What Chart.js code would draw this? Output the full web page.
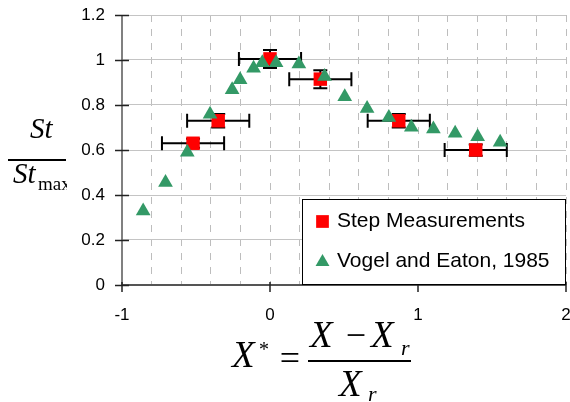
<!DOCTYPE html>
<html>
<head>
<meta charset="utf-8">
<script src="https://cdn.jsdelivr.net/npm/chart.js@4.4.1/dist/chart.umd.min.js"></script>
<style>
  html, body { margin: 0; padding: 0; background: #fff; }
  #wrap { width: 570px; height: 402px; }
</style>
</head>
<body>
<div id="wrap"><canvas id="stanton" width="570" height="402"></canvas></div>
<script>
// step measurements: X*, St/St_max and error half-widths
const stepX = [-0.52, -0.35, 0.0, 0.34, 0.87, 1.39];
const stepY = [0.63, 0.73, 1.005, 0.915, 0.73, 0.60];
const stepXErr = [0.21, 0.21, 0.21, 0.21, 0.21, 0.21];
const stepYErr = [0.02, 0.03, 0.04, 0.04, 0.03, 0.025];

// Vogel and Eaton, 1985
const vogelX = [-0.857, -0.706, -0.559, -0.405, -0.256, -0.202, -0.111, -0.052, 0.041, 0.195,
                0.369, 0.505, 0.656, 0.803, 0.955, 1.104, 1.251, 1.403, 1.555];
const vogelY = [0.329, 0.456, 0.59, 0.759, 0.868, 0.912, 0.963, 0.988, 0.988, 0.982,
                0.927, 0.837, 0.785, 0.744, 0.701, 0.693, 0.674, 0.659, 0.634];

const seriesNames = ['Step Measurements', 'Vogel and Eaton, 1985'];
const xTicks = [-1, 0, 1, 2];
const yTicks = [0, 0.2, 0.4, 0.6, 0.8, 1, 1.2];

const RED = '#ff0000';
const GREEN = '#339966';
const sans = '"Liberation Sans", Arial, sans-serif';
const serif = '"Liberation Serif", "Times New Roman", serif';

const toPoints = (xs, ys) => xs.map((v, i) => ({ x: v, y: ys[i] }));

function marker(ctx, style, cx, cy, r, color) {
    ctx.fillStyle = color;
    ctx.beginPath();
    if (style === 'rect') {
        const s = r * Math.SQRT1_2;
        ctx.rect(cx - s, cy - s, 2 * s, 2 * s);
    } else {
        ctx.moveTo(cx, cy - r);
        ctx.lineTo(cx + r * 0.866, cy + r / 2);
        ctx.lineTo(cx - r * 0.866, cy + r / 2);
        ctx.closePath();
    }
    ctx.fill();
}

// axes, tick marks and error bars, all under the markers
const frame = {
    id: 'frame',
    beforeDatasetsDraw(chart) {
        const { ctx, chartArea: a, scales: { x, y } } = chart;
        ctx.save();

        ctx.strokeStyle = '#000';
        ctx.lineWidth = 2;
        stepX.forEach((v, i) => {
            const px = x.getPixelForValue(v);
            const py = y.getPixelForValue(stepY[i]);
            const x0 = x.getPixelForValue(v - stepXErr[i]);
            const x1 = x.getPixelForValue(v + stepXErr[i]);
            const y0 = y.getPixelForValue(stepY[i] - stepYErr[i]);
            const y1 = y.getPixelForValue(stepY[i] + stepYErr[i]);
            ctx.beginPath();
            ctx.moveTo(x0, py); ctx.lineTo(x1, py);
            ctx.moveTo(x0, py - 7); ctx.lineTo(x0, py + 7);
            ctx.moveTo(x1, py - 7); ctx.lineTo(x1, py + 7);
            ctx.moveTo(px, y0); ctx.lineTo(px, y1);
            ctx.moveTo(px - 7, y0); ctx.lineTo(px + 7, y0);
            ctx.moveTo(px - 7, y1); ctx.lineTo(px + 7, y1);
            ctx.stroke();
        });

        // axis lines
        ctx.lineWidth = 2;
        ctx.strokeStyle = '#808080';
        ctx.beginPath();
        ctx.moveTo(a.left, a.top); ctx.lineTo(a.left, a.bottom);
        ctx.stroke();
        ctx.strokeStyle = '#555';
        ctx.beginPath();
        ctx.moveTo(a.left, a.bottom); ctx.lineTo(a.right, a.bottom);
        ctx.stroke();

        // cross ticks
        ctx.strokeStyle = '#222';
        ctx.lineWidth = 1.5;
        ctx.beginPath();
        yTicks.forEach(v => {
            const py = Math.round(y.getPixelForValue(v)) + 0.5;
            ctx.moveTo(a.left - 7, py); ctx.lineTo(a.left + 7, py);
        });
        xTicks.forEach(v => {
            const px = Math.round(x.getPixelForValue(v));
            ctx.moveTo(px, a.bottom - 3); ctx.lineTo(px, a.bottom + 7);
        });
        ctx.stroke();
        ctx.restore();
    },
    afterDraw(chart) {
        const ctx = chart.ctx;
        const ds = chart.data.datasets;
        ctx.save();

        // legend box
        ctx.fillStyle = '#fff';
        ctx.fillRect(302, 199, 264, 86);
        ctx.strokeStyle = '#000';
        ctx.lineWidth = 1;
        ctx.strokeRect(302.5, 199.5, 263, 85);
        marker(ctx, 'rect', 322.5, 221.5, 9, ds[0].backgroundColor);
        marker(ctx, 'triangle', 322.5, 262, 8, ds[1].backgroundColor);
        ctx.fillStyle = '#000';
        ctx.font = '21px ' + sans;
        ctx.textBaseline = 'middle';
        ctx.textAlign = 'left';
        ctx.fillText(seriesNames[0], 337, 221);
        ctx.fillText(seriesNames[1], 337, 261);

        // y title: St / St_max
        ctx.textBaseline = 'alphabetic';
        ctx.font = 'italic 29px ' + serif;
        ctx.fillText('St', 30, 138);
        ctx.fillRect(8, 159, 58, 2);
        ctx.fillText('St', 13, 183);
        ctx.save();
        ctx.beginPath();
        ctx.rect(0, 0, 67, 402);
        ctx.clip();
        ctx.font = '19px ' + serif;
        ctx.fillText('max', 38, 190);
        ctx.restore();

        // x title: X* = (X - X_r) / X_r
        ctx.font = 'italic 37px ' + serif;
        ctx.fillText('X', 232, 367);
        ctx.font = '20px ' + serif;
        ctx.fillText('*', 259, 356);
        ctx.font = '36px ' + serif;
        ctx.textAlign = 'center';
        ctx.fillText('=', 290, 370);
        ctx.fillText('\u2212', 356, 347);
        ctx.fillRect(308, 360, 103, 2);
        ctx.textAlign = 'left';
        ctx.font = 'italic 37px ' + serif;
        ctx.fillText('X', 310, 347);
        ctx.fillText('X', 371, 347);
        ctx.fillText('X', 339, 396);
        ctx.font = 'italic 22px ' + serif;
        ctx.fillText('r', 401, 355);
        ctx.fillText('r', 368, 401);

        ctx.restore();
    }
};

new Chart(document.getElementById('stanton'), {
    type: 'scatter',
    data: {
        datasets: [
            {
                label: seriesNames[0],
                data: toPoints(stepX, stepY),
                pointStyle: 'rect',
                pointRadius: 9.5,
                pointHoverRadius: 9.5,
                pointBorderWidth: 0,
                backgroundColor: RED,
                borderColor: RED,
                order: 2
            },
            {
                label: seriesNames[1],
                data: toPoints(vogelX, vogelY),
                pointStyle: 'triangle',
                pointRadius: 8.5,
                pointHoverRadius: 8.5,
                pointBorderWidth: 0,
                backgroundColor: GREEN,
                borderColor: GREEN,
                order: 1
            }
        ]
    },
    options: {
        responsive: false,
        animation: false,
        events: [],
        layout: { autoPadding: false, padding: { top: 15, right: 4, left: 0, bottom: 0 } },
        plugins: {
            legend: { display: false },
            tooltip: { enabled: false }
        },
        scales: {
            x: {
                type: 'linear',
                min: -1,
                max: 2,
                afterFit: s => { s.height = 117; s.paddingLeft = 0; s.paddingRight = 0; },
                ticks: {
                    stepSize: 0.2,
                    autoSkip: false,
                    maxRotation: 0,
                    padding: 20,
                    color: '#000',
                    font: { family: sans, size: 17 },
                    callback: v => {
                        const t = xTicks.find(k => Math.abs(k - v) < 1e-6);
                        return t === undefined ? '' : String(t);
                    }
                },
                grid: { color: '#bdbdbd', lineWidth: 1, drawTicks: false },
                border: { display: false, dash: [7, 7] }
            },
            y: {
                min: 0,
                max: 1.2,
                afterFit: s => { s.width = 122; s.paddingTop = 0; s.paddingBottom = 0; },
                afterBuildTicks: s => { s.ticks = yTicks.map(v => ({ value: v })); },
                ticks: {
                    padding: 17,
                    color: '#000',
                    font: { family: sans, size: 17 },
                    callback: v => String(Math.round(v * 10) / 10)
                },
                grid: { color: '#c4c4c4', lineWidth: 1, drawTicks: false },
                border: { display: false }
            }
        }
    },
    plugins: [frame]
});
</script>
</body>
</html>
